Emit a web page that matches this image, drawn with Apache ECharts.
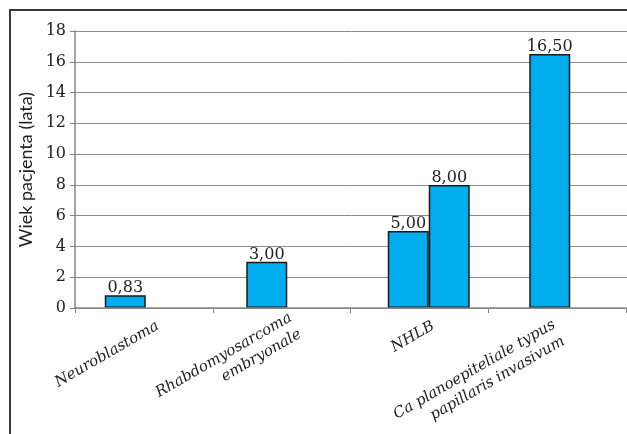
<!DOCTYPE html>
<html>
<head>
<meta charset="utf-8">
<script src="https://cdn.jsdelivr.net/npm/echarts@6/dist/echarts.min.js"></script>
<style>
  html, body { margin: 0; padding: 0; background: #ffffff; }
  #chart { width: 627px; height: 434px; }
</style>
</head>
<body>
<div id="chart"></div>
<script>
// Diagnoses (category axis)
const categories = [
  'Neuroblastoma',
  'Rhabdomyosarcoma\nembryonale',
  'NHLB',
  'Ca planoepiteliale typus\npapillaris invasivum'
];
// Patient age in years; NHLB has two patients
const agesFirst = [0.83, 3.00, 5.00, 16.50];
const agesSecond = [null, null, 8.00, null];
// Y axis range
const yMin = 0;
const yMax = 18;
const yStep = 2;
const yTitle = 'Wiek pacjenta (lata)';

const serif = '"DejaVu Serif", "Liberation Serif", serif';
const fmt = v => Number(v).toFixed(2).replace('.', ',');

const barStyle = {
  color: '#00AEEF',
  borderColor: '#1a1a1a',
  borderWidth: 1.5
};
const valueLabel = {
  show: true,
  position: 'top',
  distance: -1,
  fontFamily: serif,
  fontSize: 16,
  color: '#222',
  formatter: p => fmt(p.value)
};

// the last category label is pulled back so it stays inside the frame
const axisCategories = categories.map((c, i) =>
  i === categories.length - 1 ? { value: c, textStyle: { padding: [0, -2, 0, 0] } } : c
);

const plotTop = 31, plotBottom = 126, plotLeft = 75;

const chart = echarts.init(document.getElementById('chart'), null, { renderer: 'canvas' });
chart.setOption({
  animation: false,
  backgroundColor: '#ffffff',
  graphic: [{
    type: 'rect',
    shape: { x: 10, y: 10, width: 700, height: 500 },
    style: { fill: 'none', stroke: '#3a3a3a', lineWidth: 2 },
    z: 100
  }],
  // grid 0 holds the bars (slot spacing), grid 1 carries the category axis ticks and labels;
  // both run past the right edge of the canvas
  grid: [
    { left: plotLeft, top: plotTop, width: 566, bottom: plotBottom, outerBoundsMode: 'none' },
    { left: plotLeft, top: plotTop, width: 551, bottom: plotBottom, outerBoundsMode: 'none' }
  ],
  xAxis: [
    {
      type: 'category',
      gridIndex: 0,
      data: categories,
      show: false
    },
    {
      type: 'category',
      gridIndex: 1,
      data: axisCategories,
      axisLine: { lineStyle: { color: '#868686', width: 1.5 } },
      axisTick: { show: true, length: 5, lineStyle: { color: '#868686' } },
      axisLabel: {
        rotate: 30,
        interval: 0,
        margin: 25,
        padding: [0, -16, 0, 0],
        fontFamily: serif,
        fontStyle: 'italic',
        fontSize: 15,
        lineHeight: 19,
        color: '#222'
      },
      z: 3
    }
  ],
  yAxis: [
    {
      type: 'value',
      gridIndex: 0,
      min: yMin,
      max: yMax,
      interval: yStep,
      name: yTitle,
      nameLocation: 'middle',
      nameGap: 39,
      nameTextStyle: { fontFamily: 'Lato, "Noto Sans", sans-serif', fontSize: 18, color: '#222' },
      axisLine: { show: true, lineStyle: { color: '#868686', width: 1.5 } },
      axisTick: { show: true, length: 5, lineStyle: { color: '#868686' } },
      axisLabel: { fontFamily: serif, fontSize: 16, color: '#222', margin: 9 },
      splitLine: { show: true, lineStyle: { color: '#8c8c8c', width: 1 } }
    },
    {
      type: 'value',
      gridIndex: 1,
      min: yMin,
      max: yMax,
      interval: yStep,
      show: false
    }
  ],
  series: [
    {
      type: 'bar',
      xAxisIndex: 0,
      yAxisIndex: 0,
      data: agesFirst,
      barWidth: 41,
      barGap: '0%',
      itemStyle: barStyle,
      label: valueLabel
    },
    {
      type: 'bar',
      xAxisIndex: 0,
      yAxisIndex: 0,
      data: agesSecond,
      barWidth: 41,
      barGap: '0%',
      itemStyle: barStyle,
      label: valueLabel
    }
  ]
});
</script>
</body>
</html>
